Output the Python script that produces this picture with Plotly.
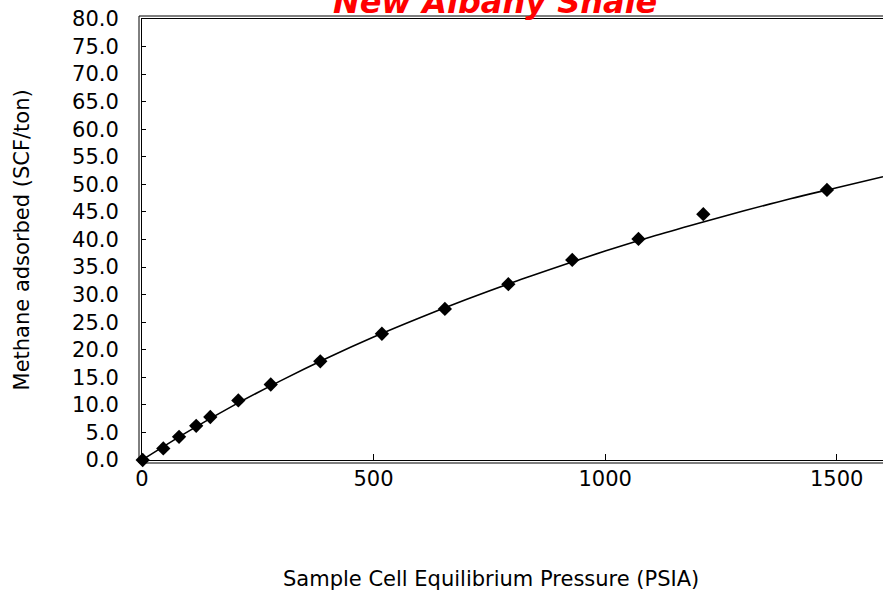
import plotly.graph_objects as go

pressure = [1.5, 46, 80, 117, 147.5, 208, 278, 385, 518, 654, 791, 929, 1072, 1212, 1479]
adsorbed = [0.0, 2.1, 4.2, 6.2, 7.8, 10.8, 13.7, 17.9, 22.9, 27.4, 31.9, 36.3, 40.1, 44.6, 49.0]

# fitted curve
curve_p = [0, 100, 200, 300, 400, 500, 600, 700, 800, 900, 1000, 1100, 1200, 1300, 1400, 1500, 1600]
curve_v = [0, 5.2, 10.0, 14.4, 18.5, 22.3, 25.8, 29.1, 32.2, 35.1, 37.9, 40.5, 42.9, 45.2, 47.4, 49.4, 51.4]

font = "DejaVu Sans"

fig = go.Figure()
fig.add_trace(go.Scatter(x=curve_p, y=curve_v, mode="lines", line=dict(color="black", width=1.6, shape="spline"),
                         showlegend=False, hoverinfo="skip"))
fig.add_trace(go.Scatter(x=pressure, y=adsorbed, mode="markers", cliponaxis=False,
                         marker=dict(symbol="diamond", size=11, color="black"), showlegend=False))

fig.update_xaxes(range=[0, 1600], dtick=500, ticks="inside", ticklen=6, tickcolor="black",
                 showline=True, linecolor="black", linewidth=1, mirror=True, showgrid=False, zeroline=False,
                 tickfont=dict(family=font, size=21, color="black"))
fig.update_yaxes(range=[0, 80], dtick=5, tickformat=".1f", ticks="inside", ticklen=4, tickcolor="black",
                 showline=True, linecolor="black", linewidth=1, showgrid=False, zeroline=False,
                 ticklabelstandoff=18, tickfont=dict(family=font, size=21, color="black"))

# outer half of the double frame lines
outer = dict(type="line", xref="paper", yref="paper", line=dict(color="black", width=1))
fig.add_shape(**outer, xsizemode="pixel", xanchor=0, x0=-3, x1=-3,
              ysizemode="pixel", yanchor=0, y0=-3, y1=444)
fig.add_shape(**outer, xsizemode="pixel", xanchor=0, x0=-3, x1=800,
              ysizemode="pixel", yanchor=1, y0=3, y1=3)
fig.add_shape(**outer, xsizemode="pixel", xanchor=0, x0=-3, x1=800,
              ysizemode="pixel", yanchor=0, y0=-3, y1=-3)

fig.add_annotation(text="<b><i>New Albany Shale</i></b>", xref="paper", yref="paper", x=0.476, y=1.0375,
                   xanchor="center", yanchor="middle", showarrow=False,
                   font=dict(family=font, size=32, color="red"))
fig.add_annotation(text="Sample Cell Equilibrium Pressure (PSIA)", xref="paper", yref="paper", x=0.471, y=-0.27,
                   xanchor="center", yanchor="middle", showarrow=False,
                   font=dict(family=font, size=21, color="black"))
fig.add_annotation(text="Methane adsorbed (SCF/ton)", xref="paper", yref="paper", x=-0.162, y=0.5,
                   textangle=-90, xanchor="center", yanchor="middle", showarrow=False,
                   font=dict(family=font, size=21, color="black"))

fig.update_layout(width=883, height=597, margin=dict(l=142, r=0, t=19, b=137),
                  plot_bgcolor="white", paper_bgcolor="white")

fig.write_html("out.html", config={"displayModeBar": False},
               post_script="document.body.style.margin='0';")
